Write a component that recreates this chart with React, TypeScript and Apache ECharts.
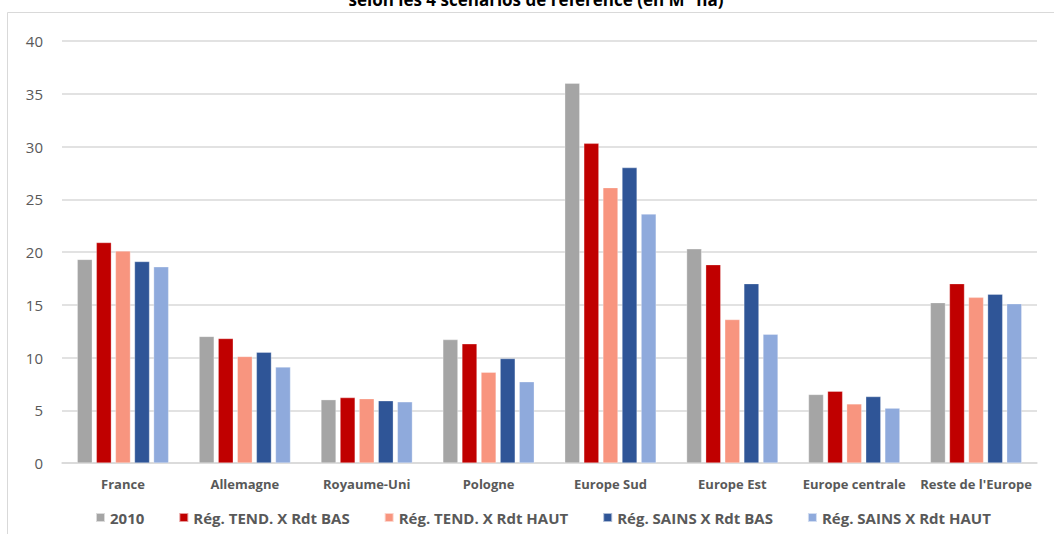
import React, { useEffect, useRef } from "react";
import * as echarts from "echarts";

const categories = ["France", "Allemagne", "Royaume-Uni", "Pologne", "Europe Sud", "Europe Est", "Europe centrale", "Reste de l'Europe"];
const seriesNames = ["2010", "Rég. TEND. X Rdt BAS", "Rég. TEND. X Rdt HAUT", "Rég. SAINS X Rdt BAS", "Rég. SAINS X Rdt HAUT"];
const v2010 = [19.3, 12.0, 6.0, 11.7, 36.0, 20.3, 6.5, 15.2];
const tendBas = [20.9, 11.8, 6.2, 11.3, 30.3, 18.8, 6.8, 17.0];
const tendHaut = [20.1, 10.1, 6.1, 8.6, 26.1, 13.6, 5.6, 15.7];
const sainsBas = [19.1, 10.5, 5.9, 9.9, 28.0, 17.0, 6.3, 16.0];
const sainsHaut = [18.6, 9.1, 5.8, 7.7, 23.6, 12.2, 5.2, 15.1];
const colors = ["#A5A5A5", "#C00000", "#F8957F", "#2F5597", "#8FAADC"];
const titleText = "selon les 4 scénarios de référence (en M° ha)";

export default function App() {
  const ref = useRef<HTMLDivElement>(null);
  useEffect(() => {
    if (!ref.current) return;
    const chart = echarts.init(ref.current, null, { renderer: "svg" });
    const data = [v2010, tendBas, tendHaut, sainsBas, sainsHaut];
    const font = "'Open Sans', sans-serif";
    chart.setOption({
      animation: false,
      color: colors,
      graphic: [
        { type: "rect", shape: { x: 7.5, y: 12.5, width: 1200, height: 700 }, style: { fill: "none", stroke: "#D9D9D9", lineWidth: 1 } },
        { type: "text", x: 536, y: -9, style: { text: titleText, textAlign: "center", textVerticalAlign: "top", font: "bold 17px " + font, fill: "#000" } },
      ],
      grid: { left: 62, right: 17, top: 41, bottom: 71 },
      legend: {
        bottom: 4,
        left: 90,
        icon: "rect",
        itemWidth: 9,
        itemHeight: 9,
        itemGap: 34,
        textStyle: { fontFamily: font, fontWeight: "bold", fontSize: 15, color: "#595959" },
        data: seriesNames,
      },
      xAxis: {
        type: "category",
        data: categories,
        axisLine: { lineStyle: { color: "#D9D9D9", width: 1.5 } },
        axisTick: { show: false },
        axisLabel: { fontFamily: font, fontWeight: "bold", fontSize: 13, color: "#595959", margin: 14, interval: 0 },
      },
      yAxis: {
        type: "value",
        min: 0,
        max: 40,
        interval: 5,
        axisLine: { show: false },
        axisTick: { show: false },
        splitLine: { lineStyle: { color: "#D9D9D9", width: 1.5 } },
        axisLabel: { fontFamily: font, fontSize: 15, color: "#595959", margin: 19 },
      },
      series: seriesNames.map((name, i) => ({
        name,
        type: "bar",
        data: data[i],
        barGap: "27%",
        barCategoryGap: "25%",
        itemStyle: { color: colors[i], borderColor: "rgba(255,255,255,0.6)", borderWidth: 0.5 },
      })),
    });
    return () => chart.dispose();
  }, []);
  return <div ref={ref} style={{ width: 1054, height: 534, position: "absolute", left: 0, top: 0 }} />;
}
